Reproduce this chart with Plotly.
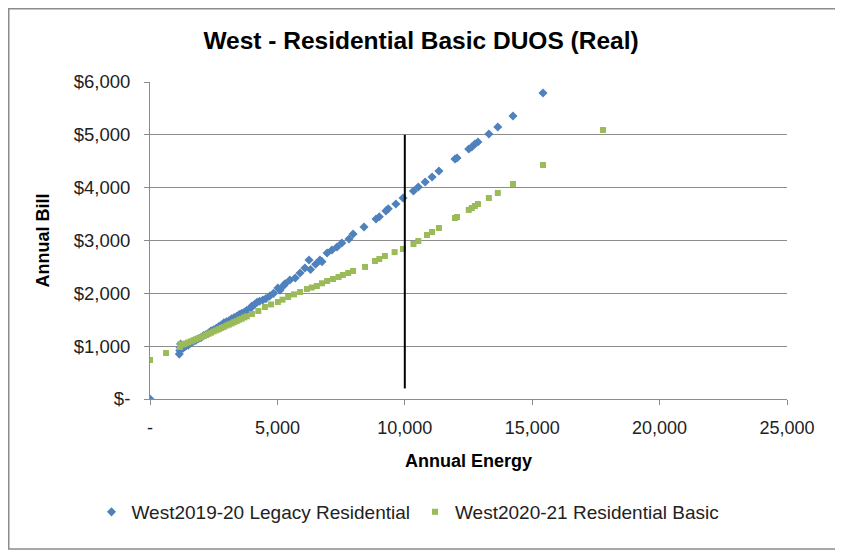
import plotly.graph_objects as go

# ---- data ----
legacy_energy = [0, 1150, 1170, 1180, 1200, 1300, 1400, 1500, 1600, 1700, 1800, 1900, 2000,
                 2100, 2200, 2300, 2400, 2500, 2600, 2700, 2800, 2900, 3000, 3100, 3200,
                 3300, 3400, 3500, 3600, 3700, 3800, 3920, 4000, 4100, 4200, 4300, 4430,
                 4550, 4700, 4850, 5020, 5100, 5250, 5300, 5490, 5700, 5890, 6080, 6240,
                 6300, 6500, 6670, 6750, 6950, 7140, 7340, 7530, 7810, 7970, 8400, 8870,
                 9000, 9260, 9350, 9650, 9930, 10340, 10530, 10800, 11070, 11340, 11970,
                 12050, 12510, 12630, 12750, 12870, 13300, 13650, 14246, 15424]
legacy_bill = [0, 850, 920, 980, 1040, 960, 1000, 1020, 1060, 1090, 1110, 1140, 1160,
               1200, 1220, 1250, 1290, 1310, 1340, 1370, 1400, 1440, 1460, 1480, 1520,
               1540, 1560, 1600, 1620, 1640, 1680, 1703, 1760, 1790, 1830, 1850, 1874,
               1900, 1950, 2000, 2100, 2060, 2150, 2180, 2252, 2290, 2385, 2480, 2631,
               2450, 2550, 2631, 2600, 2764, 2820, 2877, 2953, 3029, 3123, 3256, 3407,
               3450, 3560, 3600, 3690, 3805, 3937, 4013, 4108, 4202, 4316, 4543,
               4562, 4732, 4770, 4827, 4865, 5016, 5149, 5357, 5792]

basic_energy = [0, 630, 1180, 1200, 1300, 1400, 1500, 1600, 1700, 1800, 1900, 2000, 2100,
                2200, 2300, 2400, 2500, 2600, 2700, 2800, 2900, 3000, 3100, 3200, 3300,
                3400, 3500, 3600, 3700, 3800, 4000, 4250, 4510, 4750, 5020, 5200, 5420,
                5650, 5890, 6160, 6350, 6550, 6750, 6950, 7180, 7400, 7570, 7780, 7970,
                8440, 8830, 9000, 9220, 9600, 9930, 10340, 10530, 10870, 11070, 11340,
                11970, 12050, 12510, 12630, 12750, 12870, 13300, 13650, 14246, 15424, 17780]
basic_bill = [738, 870, 985, 1040, 1030, 1050, 1070, 1090, 1110, 1130, 1150, 1170, 1190,
              1210, 1235, 1255, 1280, 1300, 1320, 1345, 1365, 1390, 1410, 1430, 1455,
              1475, 1500, 1520, 1545, 1565, 1609, 1665, 1741, 1790, 1836, 1880, 1931,
              1980, 2025, 2082, 2110, 2139, 2190, 2233, 2271, 2310, 2347, 2385, 2423,
              2499, 2612, 2650, 2707, 2780, 2839, 2934, 2990, 3104, 3161, 3237,
              3426, 3445, 3578, 3615, 3653, 3691, 3805, 3899, 4070, 4429, 5092]

threshold_energy = [10000, 10000]
threshold_bill = [200, 5000]

x_ticks = [0, 5000, 10000, 15000, 20000, 25000]
x_labels = ["-", "5,000", "10,000", "15,000", "20,000", "25,000"]
y_ticks = [0, 1000, 2000, 3000, 4000, 5000, 6000]
y_labels = ["$-", "$1,000", "$2,000", "$3,000", "$4,000", "$5,000", "$6,000"]

FONT = "Liberation Sans, Arial, sans-serif"
GRID = "#8c8c8c"

# page body has an 8px margin; figure sized/positioned to compensate
W, H = 835, 544
L, R, T, B = 142, 56, 74, 153
PW, PH = W - L - R, H - T - B

fig = go.Figure()
fig.add_trace(go.Scatter(
    x=legacy_energy, y=legacy_bill, mode="markers",
    name="West2019-20 Legacy Residential",
    marker=dict(symbol="diamond", size=7, color="#4F81BD")))
fig.add_trace(go.Scatter(
    x=basic_energy, y=basic_bill, mode="markers",
    name="West2020-21 Residential Basic",
    marker=dict(symbol="square", size=6, color="#9BBB59")))
fig.add_trace(go.Scatter(
    x=threshold_energy, y=threshold_bill, mode="lines",
    line=dict(color="black", width=2), showlegend=False, hoverinfo="skip"))

fig.update_layout(
    width=W, height=H,
    paper_bgcolor="white", plot_bgcolor="white",
    margin=dict(l=L, r=R, t=T, b=B, autoexpand=False),
    font=dict(family=FONT, size=18, color="#222222"),
    title=dict(text="<b>West - Residential Basic DUOS (Real)</b>",
               xref="container", x=413 / W, xanchor="center",
               yref="container", y=1 - 32 / H, yanchor="middle",
               font=dict(size=24.5, family=FONT, color="black")),
    showlegend=True,
    legend=dict(orientation="h", x=(400 - L) / PW, xanchor="center",
                y=-113 / PH, yanchor="middle",
                font=dict(size=19, family=FONT, color="#222222"), itemsizing="trace"),
    xaxis=dict(range=[0, 25000], tickvals=x_ticks, ticktext=x_labels,
               showgrid=False, zeroline=False, showline=True, linecolor=GRID,
               ticks="outside", ticklen=5, tickcolor=GRID, ticklabelstandoff=7,
               tickfont=dict(size=18),
               title=dict(text="<b>Annual Energy</b>", font=dict(size=18, color="black"),
                          standoff=17)),
    yaxis=dict(range=[0, 6000], tickvals=y_ticks, ticktext=y_labels,
               showgrid=True, gridcolor=GRID, gridwidth=1, zeroline=False,
               showline=True, linecolor=GRID,
               ticks="outside", ticklen=5, tickcolor=GRID, ticklabelstandoff=10,
               tickfont=dict(size=18.5),
               title=dict(text="<b>Annual Bill</b>", font=dict(size=18, color="black"),
                          standoff=19)),
)

fig.add_shape(type="rect", xref="paper", yref="paper",
              x0=-(L - 0.75) / PW, x1=1 + (R - 2) / PW,
              y0=-(B - 3) / PH, y1=1 + (T - 0.75) / PH,
              line=dict(color="#8c8c8c", width=1.5), layer="above")

fig.write_html("out.html")
